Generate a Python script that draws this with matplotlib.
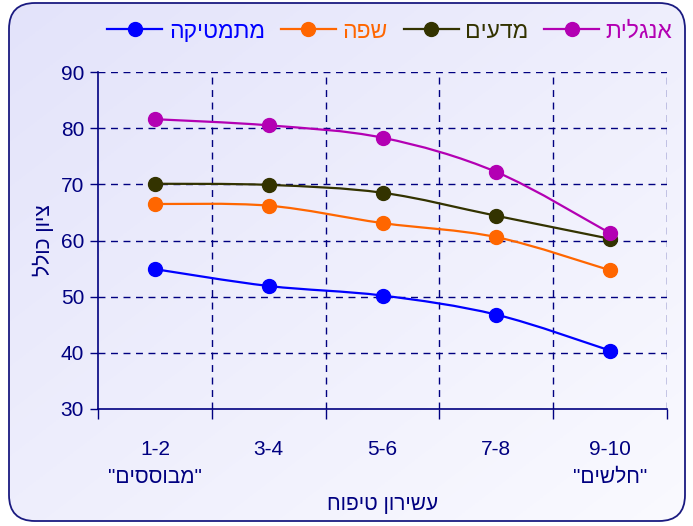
import numpy as np
import matplotlib
matplotlib.use("Agg")
import matplotlib.pyplot as plt
from matplotlib.path import Path
from matplotlib.patches import PathPatch, FancyBboxPatch
from matplotlib.lines import Line2D

plt.rcParams['font.family'] = ['Liberation Sans', 'DejaVu Sans']

def heb(s):
    # visual order for right-to-left text
    return s[::-1]

categories = ["1-2", "3-4", "5-6", "7-8", "9-10"]
cat_sub = ['"מבוססים"', "", "", "", '"חלשים"']
series_names = ["מתמטיקה", "שפה", "מדעים", "אנגלית"]
math_vals = [54.9, 51.9, 50.2, 46.8, 40.4]
lang_vals = [66.5, 66.2, 63.1, 60.6, 54.7]
sci_vals = [70.1, 69.9, 68.5, 64.4, 60.3]
eng_vals = [81.6, 80.5, 78.3, 72.2, 61.3]
colors = ["#0000ff", "#ff6600", "#333300", "#b300b3"]
x_label = "עשירון טיפוח"
y_label = "ציון כולל"

W, H = 693, 526
fig = plt.figure(figsize=(W / 100, H / 100), dpi=100)
fig.patch.set_facecolor("white")

# background with rounded frame and gradient
bg = fig.add_axes([0, 0, 1, 1], zorder=-2)
bg.set_xlim(0, W); bg.set_ylim(H, 0); bg.axis("off")
frame = FancyBboxPatch((9, 3), W - 9 - 8, H - 3 - 5,
                       boxstyle="round,pad=0,rounding_size=26",
                       facecolor="none", edgecolor="#1a1a80", lw=1.3, zorder=3)
bg.add_patch(frame)
gx = np.linspace(0, 1, 200)
gy = np.linspace(0, 1, 200)
GX, GY = np.meshgrid(gx, gy)
t = np.clip((GX * 0.6 + GY * 0.6) / 1.2, 0, 1)
c0 = np.array([0.89, 0.89, 0.98])
c1 = np.array([0.98, 0.98, 1.0])
img = c0[None, None, :] * (1 - t[..., None]) + c1[None, None, :] * t[..., None]
im = bg.imshow(img, extent=(9, W - 8, H - 5, 3), aspect="auto", zorder=1)
clip = FancyBboxPatch((9, 3), W - 9 - 8, H - 3 - 5,
                      boxstyle="round,pad=0,rounding_size=26",
                      facecolor="none", edgecolor="none", transform=bg.transData)
bg.add_patch(clip)
im.set_clip_path(clip)

L, R, T, B = 98, 667, 72, 409
ax = fig.add_axes([L / W, 1 - B / H, (R - L) / W, (B - T) / H])
ax.set_facecolor("none")
navy = "#000080"

x = np.arange(len(categories))
ax.set_xlim(-0.5, len(categories) - 0.5)
ax.set_ylim(30, 90)

def smooth_path(xs, ys):
    pts = np.column_stack([xs, ys]).astype(float)
    n = len(pts)
    verts = [pts[0]]
    codes = [Path.MOVETO]
    for i in range(n - 1):
        p0 = pts[i - 1] if i > 0 else pts[i]
        p1 = pts[i]
        p2 = pts[i + 1]
        p3 = pts[i + 2] if i + 2 < n else pts[i + 1]
        c1p = p1 + (p2 - p0) / 6.0
        c2p = p2 - (p3 - p1) / 6.0
        verts += [c1p, c2p, p2]
        codes += [Path.CURVE4] * 3
    return Path(verts, codes)

all_vals = [math_vals, lang_vals, sci_vals, eng_vals]
handles = []
for vals, col, name in zip(all_vals, colors, series_names):
    ax.add_patch(PathPatch(smooth_path(x, vals), fill=False, edgecolor=col,
                           lw=1.6, zorder=3))
    ax.plot(x, vals, linestyle="none", marker="o", markersize=10,
            color=col, zorder=4)
    handles.append(Line2D([0], [0], color=col, lw=1.6, marker="o",
                          markersize=10, label=heb(name)))

# grid
for yv in range(40, 91, 10):
    ax.axhline(yv, color=navy, lw=1.0, dashes=(5, 4), zorder=1)
for xv in np.arange(0.5, len(categories), 1.0):
    ax.axvline(xv, color=navy, lw=1.0, dashes=(5, 4), zorder=1)

for s in ["top", "right"]:
    ax.spines[s].set_visible(False)
for s in ["left", "bottom"]:
    ax.spines[s].set_color(navy)
    ax.spines[s].set_linewidth(1.2)

ax.set_yticks(range(30, 91, 10))
ax.tick_params(axis="y", colors=navy, labelcolor=navy, labelsize=15,
               length=6, width=1, direction="out", pad=4)
ax.set_xticks(x)
labels = []
for c, s in zip(categories, cat_sub):
    labels.append(c + ("\n" + heb(s) if s else ""))
ax.set_xticklabels(labels, fontsize=15, color=navy, linespacing=1.6,
                   va="top", multialignment="center")
ax.set_xticks(np.arange(-0.5, len(categories), 1.0), minor=True)
ax.tick_params(axis="x", which="major", length=0, pad=22)
ax.tick_params(axis="x", which="minor", length=7, width=1, colors=navy,
               direction="out")
for tl in ax.get_yticklabels():
    tl.set_color(navy)

ax.set_xlabel(heb(x_label), fontsize=15, color=navy, labelpad=6)
ax.set_ylabel(heb(y_label), fontsize=15, color=navy, labelpad=5)

leg = fig.legend(handles=handles, loc="center", bbox_to_anchor=(390 / W, 1 - 31 / H),
                 ncol=4, frameon=False, fontsize=16.5, labelcolor="linecolor",
                 handlelength=2.4, handletextpad=0.28, columnspacing=0.7,
                 markerfirst=True)

fig.savefig("out.png", dpi=100, facecolor=fig.get_facecolor())
